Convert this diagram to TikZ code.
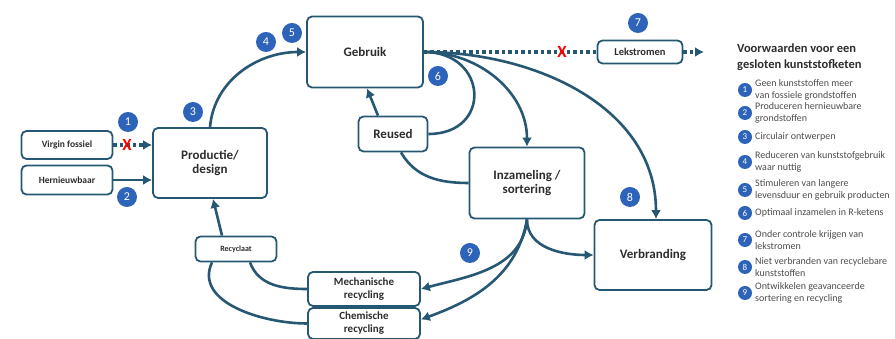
\documentclass[tikz,border=0pt]{standalone}
\usepackage{fontspec}
\setmainfont{Carlito}
\usetikzlibrary{arrows.meta}
\definecolor{lijn}{RGB}{38,88,115}
\definecolor{blauw}{RGB}{45,100,185}
\definecolor{tekst}{RGB}{45,45,45}

\begin{document}
\begin{tikzpicture}[>={Latex[length=9pt,width=10pt]}, x=1pt, y=1pt,
  blok/.style={draw=lijn, line width=1.8pt, rounded corners=5pt, fill=white,
    align=center, inner sep=0pt, text=tekst, font=\bfseries\fontsize{13}{14.5}\selectfont},
  klein/.style={blok, font=\bfseries\fontsize{9.5}{11}\selectfont},
  pijl/.style={draw=lijn, line width=2.6pt},
  stip/.style={draw=lijn, line width=3.5pt, dash pattern=on 3.5pt off 3pt},
  nr/.style={circle, fill=blauw, text=white, minimum size=20pt, inner sep=0pt,
    font=\fontsize{12}{12}\selectfont},
  lnr/.style={nr, minimum size=14pt, font=\fontsize{9}{9}\selectfont},
  kruis/.style={text=red, inner sep=0pt, font=\bfseries\fontsize{17}{17}\selectfont}]
  \useasboundingbox (0,0) rectangle (895,339);

  % blokken
  \node[klein, minimum width=91pt, minimum height=28pt] (vf) at (67,194) {Virgin fossiel};
  \node[klein, minimum width=91pt, minimum height=29pt] (hw) at (67,159) {Hernieuwbaar};
  \node[blok, minimum width=114pt, minimum height=70pt] (prod) at (210,176) {Productie/\\design};
  \node[blok, minimum width=116pt, minimum height=71pt] (geb) at (365,287) {Gebruik};
  \node[blok, minimum width=69pt, minimum height=35pt] (reu) at (393,205) {Reused};
  \node[klein, minimum width=85pt, minimum height=23pt,
    font=\bfseries\fontsize{10.5}{12}\selectfont] (lek) at (640,287) {Lekstromen};
  \coordinate (lekuit) at (704,287);
  \node[blok, minimum width=115pt, minimum height=71pt] (inz) at (527,156) {Inzameling /\\sortering};
  \node[blok, minimum width=117pt, minimum height=70pt] (verb) at (653,84) {Verbranding};
  \node[klein, minimum width=112pt, minimum height=34pt,
    font=\bfseries\fontsize{11}{13}\selectfont] (mech) at (364,50) {Mechanische\\recycling};
  \node[klein, minimum width=112pt, minimum height=31pt,
    font=\bfseries\fontsize{11}{13}\selectfont] (chem) at (364,15.5) {Chemische\\recycling};
  \node[klein, minimum width=81pt, minimum height=25pt,
    font=\bfseries\fontsize{8}{9}\selectfont] (recy) at (236,90) {Recyclaat};

  % pijlen
  \draw[stip,->] (vf.east) -- (vf.east -| prod.west);
  \draw[pijl,->] (hw.east) -- (hw.east -| prod.west);
  \draw[pijl,->] (prod.north) to[out=85, in=180] (geb.west);
  \draw[pijl,->] ([xshift=-15pt]reu.north) -- ([xshift=2pt]geb.south);
  \draw[pijl] (geb.east) to[out=0, in=0, looseness=2] (reu.east);
  \draw[pijl,->] (geb.east) to[out=0, in=90] (inz.north);
  \draw[pijl,->] (geb.east) to[out=0, in=90] ([xshift=3pt]verb.north);
  \draw[pijl] ([xshift=8pt]reu.south) to[out=-60, in=180] (inz.west);
  \draw[pijl,->] (inz.south) to[out=-90, in=180] (verb.west);
  \draw[pijl,->] (inz.south) to[out=-95, in=15] (mech.east);
  \draw[pijl,->] (inz.south) to[out=-100, in=20] ([yshift=4pt]chem.east);
  \draw[pijl] (mech.west) to[out=180, in=-70] ([xshift=14pt]recy.south);
  \draw[pijl] (chem.west) to[out=180, in=-115] ([xshift=-24pt]recy.south);
  \draw[pijl,->] ([xshift=-14pt]recy.north) -- ([xshift=3pt]prod.south);
  \draw[stip] (geb.east) -- (lek.west);
  \draw[stip,->] (lek.east) -- (lekuit);

  % kruisen
  \node[kruis] (x1) at (127,194) {X};
  \node[kruis] (x2) at (562,287) {X};

  % nummers
  \foreach \n/\x/\y in {1/128/217, 2/127/142, 3/193/227, 4/266/297, 5/292/306,
      6/438/263, 7/638/316, 8/630/142, 9/470/86}
    \node[nr] (n\n) at (\x,\y) {\n};

  % legenda
  \node[anchor=north west, align=left, inner sep=0pt, text=tekst,
    font=\bfseries\fontsize{12.5}{16}\selectfont] (titel) at (737,295)
    {Voorwaarden voor een\\gesloten kunststofketen};
  \foreach \n/\y/\t in {1/249/{Geen kunststoffen meer\\van fossiele grondstoffen},
      2/226/{Produceren hernieuwbare\\grondstoffen},
      3/202/{Circulair ontwerpen},
      4/177/{Reduceren van kunststofgebruik\\waar nuttig},
      5/149/{Stimuleren van langere\\levensduur en gebruik producten},
      6/126/{Optimaal inzamelen in R-ketens},
      7/99/{Onder controle krijgen van\\lekstromen},
      8/72/{Niet verbranden van recyclebare\\kunststoffen},
      9/46/{Ontwikkelen geavanceerde\\sortering en recycling}}
  {
    \node[lnr] (l\n) at (745,\y) {\n};
    \node[anchor=west, align=left, inner sep=0pt, text=tekst!85,
      font=\fontsize{10}{12.5}\selectfont] (lt\n) at (755,\y) {\t};
  }
\end{tikzpicture}
\end{document}
